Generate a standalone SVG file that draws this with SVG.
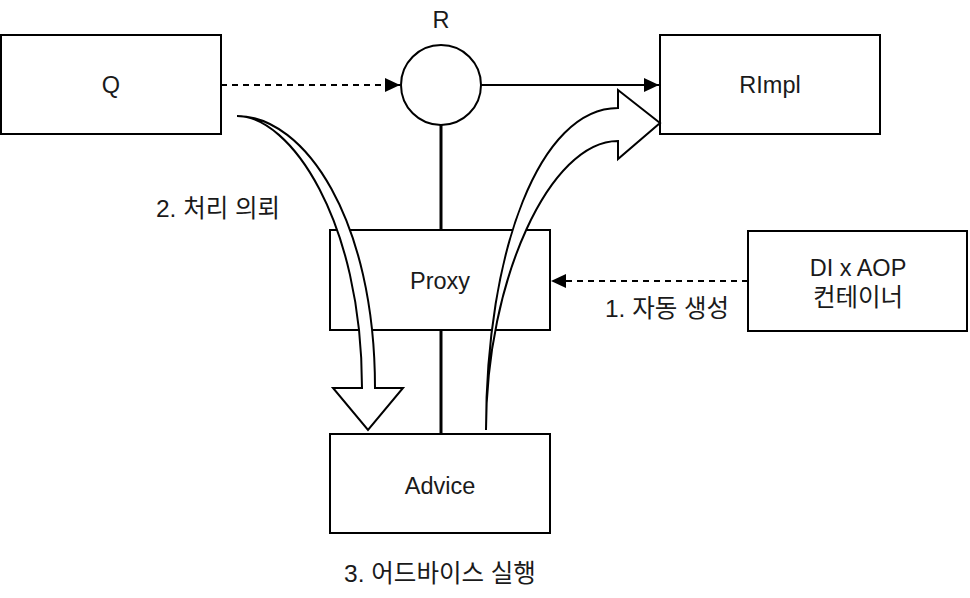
<svg xmlns="http://www.w3.org/2000/svg" width="970" height="598" viewBox="0 0 970 598">
<style>
.box{fill:#fff;stroke:#000;stroke-width:2}
.t{font-family:"Liberation Sans","Noto Sans CJK KR",sans-serif;font-size:23.5px;fill:#1a1a1a;text-anchor:middle;dominant-baseline:central}
.k{font-size:24.5px}
.dash{fill:none;stroke:#000;stroke-width:2;stroke-dasharray:6 5}
.solid{fill:none;stroke:#000;stroke-width:2}
.thick{fill:none;stroke:#000;stroke-width:3}
.flex{fill:#fff;stroke:#000;stroke-width:2;stroke-linejoin:miter}
</style>
<defs>
<marker id="ah" markerUnits="userSpaceOnUse" markerWidth="16" markerHeight="16" viewBox="0 0 16 16" refX="15" refY="8" orient="auto">
<path d="M0,1 L15,8 L0,15 Z" fill="#000"/>
</marker>
</defs>
<rect width="970" height="598" fill="#fff"/>
<g id="Q"><rect class="box" x="1" y="35" width="220" height="99"/><text class="t" x="111" y="85">Q</text></g>
<g id="R"><circle class="box" cx="441" cy="85" r="40"/><text class="t" x="441" y="20">R</text></g>
<g id="RImpl"><rect class="box" x="660" y="35" width="220" height="99"/><text class="t" x="770" y="85">RImpl</text></g>
<g id="Proxy"><rect class="box" x="330" y="230" width="220" height="100"/><text class="t" x="440" y="281">Proxy</text></g>
<g id="Advice"><rect class="box" x="330" y="434" width="220" height="99"/><text class="t" x="440" y="486">Advice</text></g>
<g id="DIAOP"><rect class="box" x="748" y="231" width="219" height="100"/><text class="t" x="858" y="268">DI x AOP</text><text class="t k" x="858" y="297">컨테이너</text></g>
<g id="connectors">
<line class="thick" x1="441" y1="125" x2="441" y2="230"/>
<line class="thick" x1="441" y1="330" x2="441" y2="434"/>
<line class="dash" x1="221" y1="85" x2="400" y2="85" marker-end="url(#ah)"/>
<line class="solid" x1="481" y1="85" x2="659" y2="85" marker-end="url(#ah)"/>
<line class="dash" x1="748" y1="281" x2="551" y2="281" marker-end="url(#ah)"/>
<path class="flex" d="M237,116 C305,116 375,220 375,388 L403,388 L368,430 L333,388 L362,388 C362,220 290,116 237,116 Z"/>
<path class="flex" d="M486,430 C486,250 540,108 618,108 L618,90 L660,123 L618,159 L618,141 C550,141 486,280 486,430 Z"/>
<text class="t k" x="218" y="208">2. 처리 의뢰</text>
<text class="t k" x="667" y="308">1. 자동 생성</text>
<text class="t k" x="440" y="573">3. 어드바이스 실행</text>
</g>
</svg>
